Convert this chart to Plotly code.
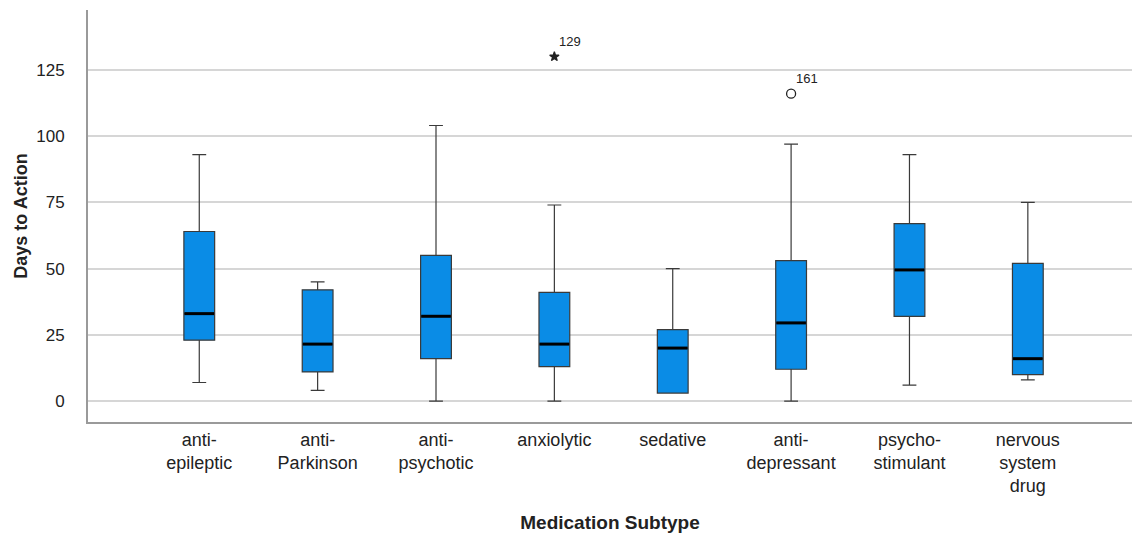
import plotly.graph_objects as go

categories = ["anti-<br>epileptic", "anti-<br>Parkinson", "anti-<br>psychotic", "anxiolytic",
              "sedative", "anti-<br>depressant", "psycho-<br>stimulant", "nervous<br>system<br>drug"]
lower = [7, 4, 0, 0, 3, 0, 6, 8]
q1 = [23, 11, 16, 13, 3, 12, 32, 10]
median = [33, 21.5, 32, 21.5, 20, 29.5, 49.5, 16]
q3 = [64, 42, 55, 41, 27, 53, 67, 52]
upper = [93, 45, 104, 74, 50, 97, 93, 75]

outlier_cat = [3, 5]
outlier_val = [130, 116]
outlier_id = ["129", "161"]
outlier_symbol = ["star", "circle-open"]

y_ticks = [0, 25, 50, 75, 100, 125]

BOX_W = 0.26
FILL = "#0A8CE6"

fig = go.Figure()
xs = list(range(len(categories)))
fig.add_trace(go.Box(
    x=xs, q1=q1, median=median, q3=q3, lowerfence=lower, upperfence=upper,
    width=BOX_W, whiskerwidth=0.45, fillcolor=FILL,
    line=dict(color="#3a3a3a", width=1.2), boxpoints=False, showlegend=False,
    hoverinfo="skip"))

# thick median bars
mx, my = [], []
for i, m in enumerate(median):
    mx += [i - BOX_W / 2 + 0.005, i + BOX_W / 2 - 0.005, None]
    my += [m, m, None]
fig.add_trace(go.Scatter(x=mx, y=my, mode="lines", line=dict(color="#000000", width=3),
                         showlegend=False, hoverinfo="skip"))

for c, v, lab, sym in zip(outlier_cat, outlier_val, outlier_id, outlier_symbol):
    fig.add_trace(go.Scatter(x=[c], y=[v], mode="markers",
                             marker=dict(symbol=sym, size=7 if sym == "star" else 9,
                                         color="#222222", line=dict(color="#222222", width=1.3)),
                             showlegend=False, hoverinfo="skip"))
    fig.add_annotation(x=c, y=v, text=lab, showarrow=False, xshift=16, yshift=15,
                       font=dict(family="Liberation Sans, Arial", size=13, color="#222222"))

fig.update_layout(
    width=1132, height=536,
    margin=dict(l=88, r=0, t=10, b=114),
    plot_bgcolor="white", paper_bgcolor="white",
    font=dict(family="Liberation Sans, Arial", color="#222222"),
    xaxis=dict(range=[-0.94, 7.88], tickvals=xs, ticktext=categories, automargin=False,
               showgrid=False, zeroline=False, showline=True, linecolor="#9a9a9a", linewidth=2,
               ticks="", tickfont=dict(size=18, color="#222222"),
               title=dict(text="<b>Medication Subtype</b>", font=dict(size=19, color="#222222"), standoff=20)),
    yaxis=dict(range=[-7.9, 147.6], tickvals=y_ticks, showgrid=True, gridcolor="#d6d6d6", gridwidth=1.5,
               automargin=False,
               zeroline=False, showline=True, linecolor="#9a9a9a", linewidth=2,
               ticks="", ticklabelstandoff=18, tickfont=dict(size=17, color="#222222"),
               title=dict(text="<b>Days to Action</b>", font=dict(size=18, color="#222222"), standoff=4)),
)

fig.write_html("out.html", config={"displayModeBar": False},
               post_script="document.body.style.margin='0';document.body.style.overflow='hidden';")
